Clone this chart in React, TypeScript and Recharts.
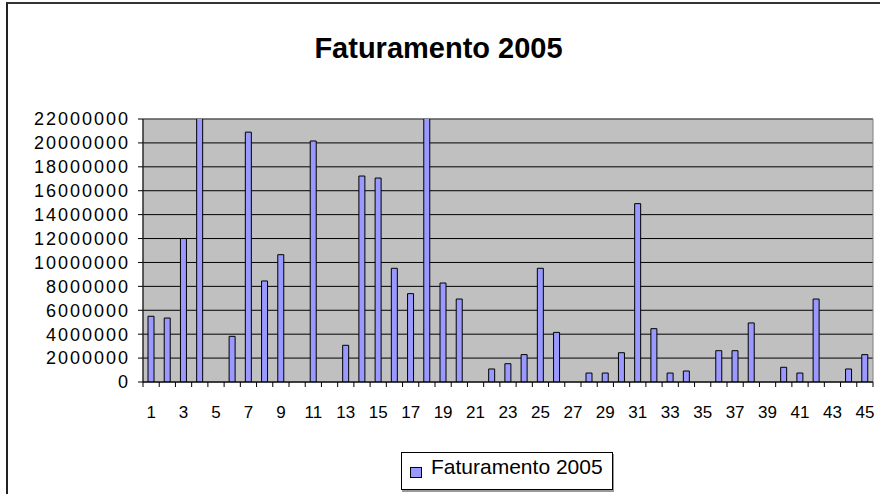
import React from "react";
import { BarChart, Bar, XAxis, YAxis, CartesianGrid, ReferenceArea } from "recharts";

const categories = [
  "1", "2", "3", "4", "5", "6", "7", "8", "9", "10",
  "11", "12", "13", "14", "15", "16", "17", "18", "19", "20",
  "21", "22", "23", "24", "25", "26", "27", "28", "29", "30",
  "31", "32", "33", "34", "35", "36", "37", "38", "39", "40",
  "41", "42", "43", "44", "45",
];

// valores (4 e 18 passam do topo do eixo)
const faturamento = [
  5500000, 5350000, 12000000, 23000000, null, 3820000, 20900000, 8450000, 10650000, null,
  20160000, null, 3070000, 17230000, 17060000, 9510000, 7390000, 23000000, 8280000, 6940000,
  null, 1090000, 1530000, 2290000, 9510000, 4150000, null, 750000, 750000, 2450000,
  14920000, 4460000, 750000, 920000, null, 2620000, 2620000, 4940000, null, 1230000,
  750000, 6940000, null, 1090000, 2290000,
];

const yTicks = [
  0, 2000000, 4000000, 6000000, 8000000, 10000000, 12000000,
  14000000, 16000000, 18000000, 20000000, 22000000,
];

const seriesName = "Faturamento 2005";
const font = "'Liberation Sans', Arial, sans-serif";

const data = categories.map((c, i) => ({ cat: c, valor: faturamento[i] }));

function XTick(props: any) {
  const { x, y, payload } = props;
  const half = payload.offset ?? 8.1;
  const last = payload.index === categories.length - 1;
  return (
    <g>
      <line x1={x - half} y1={y} x2={x - half} y2={y + 5} stroke="#000" />
      {last && <line x1={x + half} y1={y} x2={x + half} y2={y + 5} stroke="#000" />}
      {payload.index % 2 === 0 && (
        <text x={x} y={y + 36} textAnchor="middle" fontSize={17} fontFamily={font} fill="#000">
          {payload.value}
        </text>
      )}
    </g>
  );
}

function YTick(props: any) {
  const { x, y, payload } = props;
  return (
    <text
      x={x}
      y={y}
      dy="0.355em"
      textAnchor="end"
      fontSize={18}
      fontFamily={font}
      fill="#000"
      style={{ letterSpacing: 2 }}
    >
      {String(payload.value)}
    </text>
  );
}

export default function App() {
  return (
    <div
      style={{
        position: "absolute",
        left: 0,
        top: 0,
        width: 880,
        height: 494,
        overflow: "hidden",
        background: "#fff",
        fontFamily: font,
      }}
    >
      <div
        style={{
          position: "absolute",
          left: 6,
          top: 2,
          width: 900,
          height: 600,
          borderLeft: "2px solid #222",
          borderTop: "2px solid #333",
        }}
      />
      <div
        style={{
          position: "absolute",
          left: 0,
          top: 33,
          width: 877,
          textAlign: "center",
          fontSize: 29,
          lineHeight: "30px",
          fontWeight: "bold",
          color: "#000",
        }}
      >
        {seriesName}
      </div>
      <div style={{ position: "absolute", left: 0, top: 0 }}>
        <BarChart width={880} height={494} data={data} margin={{ top: 119, right: 7, bottom: 72, left: 0 }}>
          <CartesianGrid vertical={false} stroke="#000" fill="#C0C0C0" fillOpacity={1} />
          <ReferenceArea y1={0} y2={22000000} fill="none" stroke="#808080" strokeWidth={1} />
          <XAxis
            dataKey="cat"
            interval={0}
            height={40}
            tickSize={0}
            tickMargin={0}
            tickLine={false}
            axisLine={{ stroke: "#000" }}
            tick={<XTick />}
          />
          <YAxis
            width={143}
            domain={[0, 22000000]}
            ticks={yTicks}
            allowDataOverflow
            interval={0}
            tickSize={5}
            tickMargin={8}
            tickLine={{ stroke: "#000" }}
            axisLine={{ stroke: "#000" }}
            tick={<YTick />}
          />
          <Bar
            dataKey="valor"
            name={seriesName}
            fill="#9999FF"
            stroke="#000"
            strokeWidth={1}
            barSize={6}
            isAnimationActive={false}
          />
        </BarChart>
      </div>
      <div
        style={{
          position: "absolute",
          left: 401,
          top: 452,
          width: 212,
          height: 38,
          boxSizing: "border-box",
          border: "1px solid #000",
          boxShadow: "1px 2px 0 #999",
          background: "#fff",
        }}
      >
        <div
          style={{
            position: "absolute",
            left: 8,
            top: 14,
            width: 12,
            height: 11,
            boxSizing: "border-box",
            border: "1px solid #000",
            background: "#9999FF",
          }}
        />
        <div
          style={{
            position: "absolute",
            left: 29,
            top: 4,
            fontSize: 21,
            lineHeight: "20px",
            whiteSpace: "nowrap",
            color: "#000",
          }}
        >
          {seriesName}
        </div>
      </div>
    </div>
  );
}
